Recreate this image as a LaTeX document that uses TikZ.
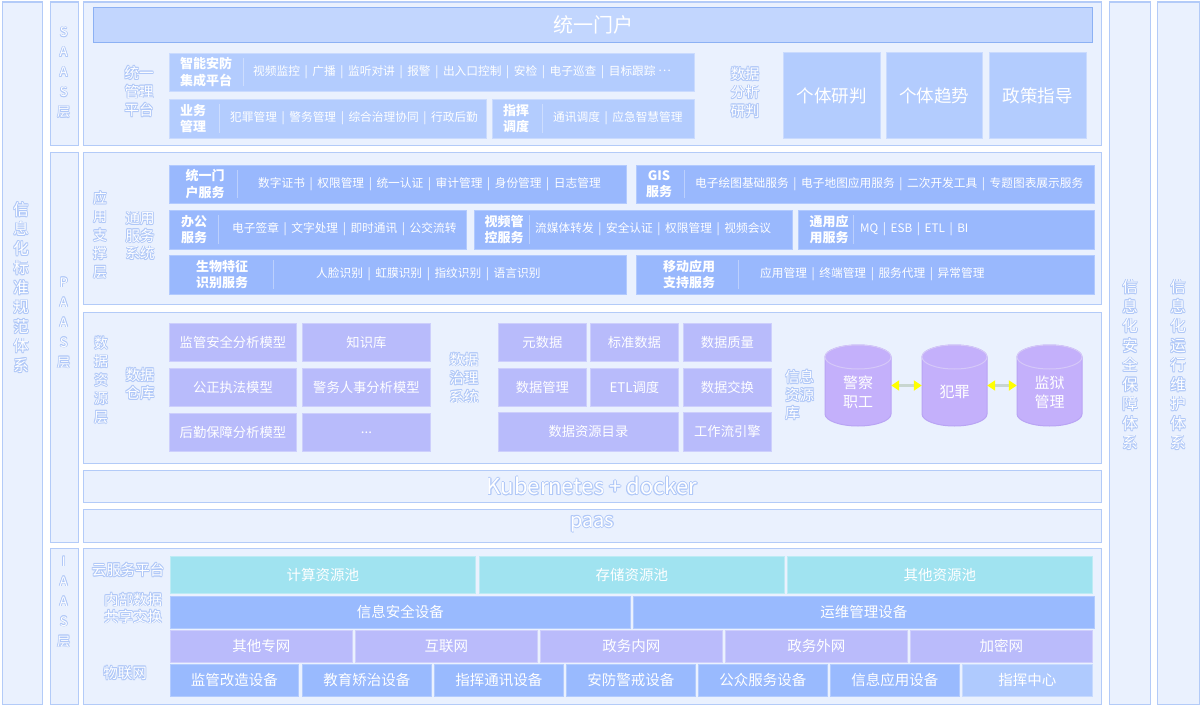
\documentclass[tikz,border=0pt]{standalone}
\usepackage{fontspec}
\setmainfont{Noto Sans CJK SC}
\usetikzlibrary{arrows.meta}
\definecolor{laybg}{HTML}{EAF1FE}
\definecolor{laybd}{HTML}{B3CBF8}
\definecolor{portalf}{HTML}{C2D6FE}
\definecolor{portald}{HTML}{8CB1F4}
\definecolor{saasf}{HTML}{B3CCFE}
\definecolor{paasf}{HTML}{99B8FD}
\definecolor{gridf}{HTML}{B8BBFB}
\definecolor{cylf}{HTML}{C4B0FB}
\definecolor{cyld}{HTML}{B9A4F4}
\definecolor{cyanf}{HTML}{A0E3F0}
\definecolor{netf}{HTML}{BABBFB}
\definecolor{devf}{HTML}{99BAFE}
\definecolor{cmdf}{HTML}{AFCAFE}
\definecolor{lblo}{HTML}{B0C8F8}
\definecolor{arry}{HTML}{FFFF00}
\definecolor{arrl}{HTML}{C8D6D0}
\newcommand{\olt}[1]{\setbox0=\hbox{#1}%
  \rlap{\color{lblo}\kern.75pt\copy0}%
  \rlap{\color{lblo}\kern-.75pt\copy0}%
  \rlap{\color{lblo}\raise.75pt\copy0}%
  \rlap{\color{lblo}\lower.75pt\copy0}%
  \rlap{\color{lblo}\kern.55pt\raise.55pt\copy0}%
  \rlap{\color{lblo}\kern-.55pt\raise.55pt\copy0}%
  \rlap{\color{lblo}\kern.55pt\lower.55pt\copy0}%
  \rlap{\color{lblo}\kern-.55pt\lower.55pt\copy0}%
  \copy0}
\newcommand{\bsep}{\hspace{4.6pt}|\hspace{4.6pt}}
\newcommand{\bx}[7]{%
  \pgfmathsetmacro{\bw}{#4-#2}\pgfmathsetmacro{\bh}{#5-#3}%
  \node[#6, anchor=north west, minimum width=\bw pt, minimum height=\bh pt, inner sep=0pt] (#1) at (#2,#3) {#7};}
\newcommand{\cyl}[6]{%
  \pgfmathsetmacro{\cx}{(#2+#4)/2}\pgfmathsetmacro{\rx}{(#4-#2)/2}%
  \pgfmathsetmacro{\cy}{(#3+#5)/2}\pgfmathsetmacro{\cw}{#4-#2}\pgfmathsetmacro{\ch}{#5-#3}%
  \path[fill=cylf, draw=cyld, line width=1pt] (#2,#3+12) -- (#2,#5-12)
     arc[start angle=180, end angle=360, x radius=\rx pt, y radius=12pt]
     -- (#4,#3+12) arc[start angle=0, end angle=180, x radius=\rx pt, y radius=12pt] -- cycle;
  \draw[draw=cyld!60!white, line width=1pt] (\cx,#3+12) ellipse [x radius=\rx pt, y radius=12pt];
  \node[inner sep=0pt, minimum width=\cw pt, minimum height=\ch pt] (#1) at (\cx,\cy) {};
  \node[cyltxt] (#1t) at (\cx,#6) {\cyltext};}
\tikzset{
  lay/.style={draw=laybd, fill=laybg, line width=1.3pt},
  portal/.style={draw=portald, fill=portalf, line width=1.3pt, text=white, font=\fontsize{20}{22}\selectfont},
  sbox/.style={fill=saasf, draw=white!30!saasf, line width=0.8pt},
  gtbox/.style={fill=saasf, draw=white!30!saasf, line width=0.8pt, text=white, font=\fontsize{17.5}{20}\selectfont},
  pbox/.style={fill=paasf, draw=white!25!paasf, line width=0.8pt},
  gcell/.style={fill=gridf, draw=white!30!gridf, line width=0.8pt, text=white, font=\fontsize{13.3}{15}\selectfont},
  ccell/.style={fill=cyanf, draw=white!30!cyanf, line width=0.8pt, text=white, font=\fontsize{14.5}{16}\selectfont},
  dcell/.style={fill=devf, draw=white!25!devf, line width=0.8pt, text=white, font=\fontsize{14.5}{16}\selectfont},
  ncell/.style={fill=netf, draw=white!30!netf, line width=0.8pt, text=white, font=\fontsize{14.5}{16}\selectfont},
  mcell/.style={fill=cmdf, draw=white!30!cmdf, line width=0.8pt, text=white, font=\fontsize{14.5}{16}\selectfont},
  hdr/.style={text=white, font=\bfseries\fontsize{13}{16.5}\selectfont, align=center, inner sep=0pt},
  itm/.style={text=white, font=\fontsize{11.7}{14}\selectfont, anchor=west, inner sep=0pt},
  lab/.style={text=white, font=\fontsize{14.5}{18.5}\selectfont, align=center, inner sep=0pt},
  vlab/.style={text=white, font=\fontsize{15.5}{19.5}\selectfont, align=center, inner sep=0pt},
  slab/.style={text=white, font=\fontsize{13}{20}\selectfont, align=center, inner sep=0pt},
  cyltxt/.style={text=white, font=\fontsize{15}{19}\selectfont, align=center, inner sep=0pt},
  divl/.style={draw=white, draw opacity=0.35, line width=0.8pt},
  biarrow/.style={draw=arrl, line width=2.5pt, arrows={Triangle[length=8pt,width=10pt,color=arry]-Triangle[length=8pt,width=10pt,color=arry]}},
  big/.style={text=white, font=\fontsize{22}{24}\selectfont, inner sep=0pt}
}
\begin{document}
\begin{tikzpicture}[x=1pt,y=-1pt]
\fill[white] (0,0) rectangle (1200,706);
\useasboundingbox (0,0) rectangle (1200,706);
% outer strips
\bx{stripL}{1.5}{1.5}{42}{704}{lay}{}
\bx{stripS}{50}{1.5}{77.5}{145}{lay}{}
\bx{stripP}{50}{152}{77.5}{542}{lay}{}
\bx{stripI}{50}{548}{77.5}{704}{lay}{}
\bx{stripR1}{1109}{1.5}{1150}{704}{lay}{}
\bx{stripR2}{1157}{1.5}{1198.5}{704}{lay}{}
\node[vlab] (labL) at (21,287.5) {\olt{信}\\\olt{息}\\\olt{化}\\\olt{标}\\\olt{准}\\\olt{规}\\\olt{范}\\\olt{体}\\\olt{系}};
\node[vlab] (labR1) at (1130,365) {\olt{信}\\\olt{息}\\\olt{化}\\\olt{安}\\\olt{全}\\\olt{保}\\\olt{障}\\\olt{体}\\\olt{系}};
\node[vlab] (labR2) at (1178,365) {\olt{信}\\\olt{息}\\\olt{化}\\\olt{运}\\\olt{行}\\\olt{维}\\\olt{护}\\\olt{体}\\\olt{系}};
\node[slab] (labS) at (63.7,72.5) {\olt{S}\\\olt{A}\\\olt{A}\\\olt{S}\\\olt{层}};
\node[slab] (labP) at (63.7,323) {\olt{P}\\\olt{A}\\\olt{A}\\\olt{S}\\\olt{层}};
\node[slab] (labI) at (63.7,602) {\olt{I}\\\olt{A}\\\olt{A}\\\olt{S}\\\olt{层}};
% SAAS
\bx{saas}{83}{1.5}{1101}{145}{lay}{}
\bx{portal}{93}{7}{1092}{42}{portal}{统一门户}
\node[lab] (labTY) at (139,91.5) {\olt{统一}\\\olt{管理}\\\olt{平台}};
\bx{zn}{169}{53}{694}{91}{sbox}{}
\node[hdr] (znh) at (206,72) {智能安防\\集成平台};
\draw[divl] (243,58) -- (243,86);
\node[itm] (znt) at (253,72) {视频监控\bsep 广播\bsep 监听对讲\bsep 报警\bsep 出入口控制\bsep 安检\bsep 电子巡查\bsep 目标跟踪\hspace{3pt}\raisebox{.3em}{.\kern1.2pt.\kern1.2pt.}};
\bx{yw}{169}{99}{486}{138}{sbox}{}
\node[hdr] (ywh) at (193,118.5) {业务\\管理};
\draw[divl] (219,104) -- (219,133);
\node[itm] (ywt) at (230,118.5) {犯罪管理\bsep 警务管理\bsep 综合治理协同\bsep 行政后勤};
\bx{zh}{492}{99}{694}{138}{sbox}{}
\node[hdr] (zhh) at (516,118.5) {指挥\\调度};
\draw[divl] (542,104) -- (542,133);
\node[itm] (zht) at (553,118.5) {通讯调度\bsep 应急智慧管理};
\node[lab] (labSJ) at (745,92.5) {\olt{数据}\\\olt{分析}\\\olt{研判}};
\bx{gt1}{783}{52}{880}{138}{gtbox}{个体研判}
\bx{gt2}{886}{52}{982}{138}{gtbox}{个体趋势}
\bx{gt3}{989}{52}{1086}{138}{gtbox}{政策指导}
% PAAS application support
\bx{yyzc}{83}{152}{1101}{304}{lay}{}
\node[lab, font=\fontsize{14}{18.5}\selectfont] (labYY) at (100,235) {\olt{应}\\\olt{用}\\\olt{支}\\\olt{撑}\\\olt{层}};
\node[lab, font=\fontsize{14.5}{17.5}\selectfont] (labTF) at (140,236) {\olt{通用}\\\olt{服务}\\\olt{系统}};
\bx{tm}{169}{165}{626}{203}{pbox}{}
\node[hdr] (tmh) at (205,184) {统一门\\户服务};
\draw[divl] (237,170) -- (237,198);
\node[itm] (tmt) at (258,184) {数字证书\bsep 权限管理\bsep 统一认证\bsep 审计管理\bsep 身份管理\bsep 日志管理};
\bx{gis}{636}{165}{1094}{203}{pbox}{}
\node[hdr] (gish) at (659,184) {GIS\\服务};
\draw[divl] (684,170) -- (684,198);
\node[itm] (gist) at (695,184) {电子绘图基础服务\bsep 电子地图应用服务\bsep 二次开发工具\bsep 专题图表展示服务};
\bx{bg}{169}{210}{466}{249}{pbox}{}
\node[hdr] (bgh) at (194,229.5) {办公\\服务};
\draw[divl] (218,215) -- (218,244);
\node[itm] (bgt) at (232,229.5) {电子签章\bsep 文字处理\bsep 即时通讯\bsep 公交流转};
\bx{sp}{474}{210}{792}{249}{pbox}{}
\node[hdr] (sph) at (504,229.5) {视频管\\控服务};
\draw[divl] (529,215) -- (529,244);
\node[itm] (spt) at (535,229.5) {流媒体转发\bsep 安全认证\bsep 权限管理\bsep 视频会议};
\bx{ty}{798}{210}{1094}{249}{pbox}{}
\node[hdr] (tyh) at (829,229.5) {通用应\\用服务};
\draw[divl] (853,215) -- (853,244);
\node[itm] (tyt) at (860,229.5) {MQ\bsep ESB\bsep ETL\bsep BI};
\bx{sw}{169}{255}{626}{294}{pbox}{}
\node[hdr] (swh) at (222,274.5) {生物特征\\识别服务};
\draw[divl] (273,260) -- (273,289);
\node[itm] (swt) at (316,274.5) {人脸识别\bsep 虹膜识别\bsep 指纹识别\bsep 语言识别};
\bx{yd}{636}{255}{1094}{294}{pbox}{}
\node[hdr] (ydh) at (689,274.5) {移动应用\\支持服务};
\draw[divl] (738,260) -- (738,289);
\node[itm] (ydt) at (760,274.5) {应用管理\bsep 终端管理\bsep 服务代理\bsep 异常管理};
% data resource layer
\bx{sjzy}{83}{312}{1101}{463}{lay}{}
\node[lab, font=\fontsize{14}{18.5}\selectfont] (labSZ) at (101,380) {\olt{数}\\\olt{据}\\\olt{资}\\\olt{源}\\\olt{层}};
\node[lab, font=\fontsize{14.5}{18}\selectfont] (labCK) at (140,384) {\olt{数据}\\\olt{仓库}};
\bx{d1}{169}{323}{296}{361}{gcell}{监管安全分析模型}
\bx{d2}{302}{323}{430}{361}{gcell}{知识库}
\bx{d3}{169}{368}{296}{406}{gcell}{公正执法模型}
\bx{d4}{302}{368}{430}{406}{gcell}{警务人事分析模型}
\bx{d5}{169}{413}{296}{451}{gcell}{后勤保障分析模型}
\bx{d6}{302}{413}{430}{451}{gcell}{...}
\node[lab, font=\fontsize{14.5}{18.5}\selectfont] (labZL) at (464,378) {\olt{数据}\\\olt{治理}\\\olt{系统}};
\bx{m1}{498}{323}{586}{361}{gcell}{元数据}
\bx{m2}{590}{323}{678}{361}{gcell}{标准数据}
\bx{m3}{683}{323}{771}{361}{gcell}{数据质量}
\bx{m4}{498}{368}{586}{406}{gcell}{数据管理}
\bx{m5}{590}{368}{678}{406}{gcell}{ETL调度}
\bx{m6}{683}{368}{771}{406}{gcell}{数据交换}
\bx{m7}{498}{412}{678}{451}{gcell}{数据资源目录}
\bx{m8}{683}{412}{771}{451}{gcell}{工作流引擎}
\node[lab, font=\fontsize{14.5}{18}\selectfont, align=left, anchor=west] (labXX) at (785,395) {\olt{信息}\\\olt{资源}\\\olt{库}};
\def\cyltext{警察\\职工}\cyl{cylA}{825}{345}{891}{426}{392.5}
\def\cyltext{犯罪}\cyl{cylB}{922}{345}{987}{426}{392}
\def\cyltext{监狱\\管理}\cyl{cylC}{1017}{345}{1082}{426}{392}
\draw[biarrow] (cylA.east) -- (cylB.west);
\draw[biarrow] (cylB.east) -- (cylC.west);
% k8s / paas
\bx{k8s}{83}{470}{1101}{502}{lay}{}
\node[big] (k8st) at (592,486) {\olt{Kubernetes + docker}};
\bx{paas}{83}{509}{1101}{542}{lay}{}
\node[big, font=\fontsize{20}{22}\selectfont] (paast) at (592,524) {\olt{paas}};
% IAAS
\bx{iaas}{83}{548}{1101}{704}{lay}{}
\node[lab] (labYF) at (128,570) {\olt{云服务平台}};
\node[lab, font=\fontsize{14.5}{17}\selectfont] (labNB) at (133,608) {\olt{内部数据}\\\olt{共享交换}};
\node[lab] (labWL) at (125,673) {\olt{物联网}};
\bx{c1}{170}{556}{475}{593}{ccell}{计算资源池}
\bx{c2}{479}{556}{784}{593}{ccell}{存储资源池}
\bx{c3}{787}{556}{1092}{593}{ccell}{其他资源池}
\bx{e1}{170}{596}{630}{628}{dcell}{信息安全设备}
\bx{e2}{633}{596}{1094}{628}{dcell}{运维管理设备}
\bx{n1}{170}{630}{352}{662}{ncell}{其他专网}
\bx{n2}{355}{630}{537}{662}{ncell}{互联网}
\bx{n3}{540}{630}{722}{662}{ncell}{政务内网}
\bx{n4}{725}{630}{907}{662}{ncell}{政务外网}
\bx{n5}{910}{630}{1092}{662}{ncell}{加密网}
\bx{v1}{170}{664}{298}{696}{dcell}{监管改造设备}
\bx{v2}{302}{664}{431}{696}{dcell}{教育矫治设备}
\bx{v3}{434}{664}{563}{696}{dcell}{指挥通讯设备}
\bx{v4}{566}{664}{695}{696}{dcell}{安防警戒设备}
\bx{v5}{698}{664}{827}{696}{dcell}{公众服务设备}
\bx{v6}{830}{664}{959}{696}{dcell}{信息应用设备}
\bx{v7}{962}{664}{1092}{696}{mcell}{指挥中心}
\end{tikzpicture}
\end{document}
